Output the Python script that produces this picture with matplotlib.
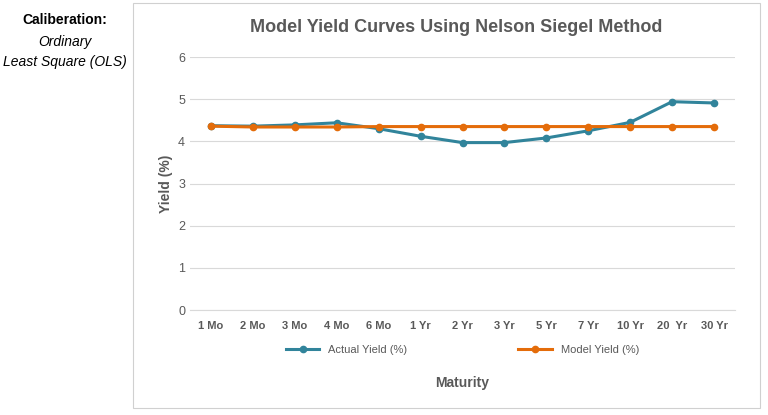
import matplotlib
matplotlib.use("Agg")
import matplotlib.pyplot as plt
from matplotlib.patches import Rectangle

plt.rcParams['font.family'] = ['Liberation Sans', 'DejaVu Sans']

maturities = ["1 Mo", "2 Mo", "3 Mo", "4 Mo", "6 Mo", "1 Yr", "2 Yr", "3 Yr",
              "5 Yr", "7 Yr", "10 Yr", "20  Yr", "30 Yr"]
actual_yield = [4.37, 4.36, 4.39, 4.44, 4.30, 4.12, 3.97, 3.97, 4.08, 4.25, 4.45, 4.94, 4.91]
model_yield = [4.36, 4.34, 4.34, 4.34, 4.35, 4.35, 4.35, 4.35, 4.35, 4.35, 4.35, 4.35, 4.35]

fig = plt.figure(figsize=(7.68, 4.15), dpi=100)
fig.patches.append(Rectangle((133 / 768, 7 / 415), 627 / 768, 405 / 415,
                             transform=fig.transFigure, fill=False,
                             edgecolor="#d0d0d0", linewidth=0.8))

ax = fig.add_axes([190 / 768, 105 / 415, 545 / 768, 253 / 415])
x = range(len(maturities))
ax.plot(x, actual_yield, color="#31849B", lw=2.2, marker="o", ms=4.5, label="Actual Yield (%)")
ax.plot(x, model_yield, color="#E46C0A", lw=2.2, marker="o", ms=4.5, label="Model Yield (%)")

ax.set_xlim(-0.5, len(maturities) - 0.5)
ax.set_ylim(0, 6)
ax.set_xticks(list(x))
ax.set_xticklabels(maturities, fontsize=8, fontweight="bold", color="#595959")
ax.set_yticks(range(7))
ax.tick_params(axis="y", labelsize=9, colors="#595959", length=0)
ax.tick_params(axis="x", length=0, pad=8)
ax.grid(axis="y", color="#d9d9d9", lw=0.8)
for s in ["top", "right", "left"]:
    ax.spines[s].set_visible(False)
ax.spines["bottom"].set_color("#d9d9d9")
ax.set_axisbelow(True)

ax.set_ylabel("Yield (%)", fontsize=10, fontweight="bold", color="#595959")
fig.text(462 / 768, 1 - 383 / 415, "Maturity", ha="center", va="center",
         fontsize=10, fontweight="bold", color="#595959")
fig.text(456 / 768, 1 - 28 / 415, "Model Yield Curves Using Nelson Siegel Method",
         ha="center", va="center", fontsize=13, fontweight="bold", color="#595959")

ax.legend(loc="upper center", bbox_to_anchor=(0.5, -0.1), ncol=2, frameon=False,
          fontsize=8, columnspacing=10, handlelength=3,
          labelcolor="#595959")

fig.text(65 / 768, 1 - 20 / 415, "Caliberation:", ha="center", va="center",
         fontsize=10, fontweight="bold")
fig.text(65 / 768, 1 - 42 / 415, "Ordinary", ha="center", va="center",
         fontsize=10, style="italic")
fig.text(65 / 768, 1 - 62 / 415, "Least Square (OLS)", ha="center", va="center",
         fontsize=10, style="italic")

fig.savefig("out.png", dpi=100)
